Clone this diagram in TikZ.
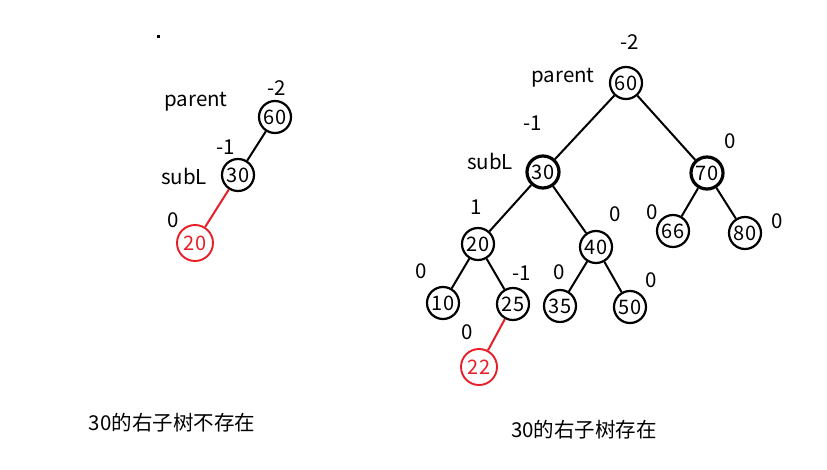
\documentclass[tikz,border=0pt]{standalone}
\usepackage{fontspec}
\setmainfont{Noto Sans CJK SC}
\definecolor{myred}{RGB}{232,30,40}
\begin{document}
\begin{tikzpicture}[x=1pt,y=-1pt,
  nd/.style={circle,draw,line width=2.2pt,minimum size=32pt,inner sep=0pt,font=\fontsize{20}{20}\selectfont},
  thick nd/.style={nd,line width=3.2pt},
  red nd/.style={nd,draw=myred,text=myred,minimum size=36pt,line width=1.9pt},
  lbl/.style={font=\fontsize{20.5}{20.5}\selectfont,inner sep=0pt},
  captext/.style={font=\fontsize{20.5}{20.5}\selectfont,inner sep=0pt},
  edge/.style={line width=2pt},
  redge/.style={line width=2pt,draw=myred}]
\useasboundingbox (0,0) rectangle (827,470);
\fill (156.5,35.5) rectangle (159.5,38.5);
% left tree
\node[nd] (a60) at (275,117) {60};
\node[nd] (a30) at (238,175) {30};
\node[red nd] (a20) at (195,243) {20};
\draw[edge] (a60) -- (a30);
\draw[redge] (a30) -- (a20);
\node[lbl] (la1) at (277,88) {-2};
\node[lbl] (la2) at (196,102) {parent};
\node[lbl] (la3) at (226,147) {-1};
\node[lbl] (la4) at (184,176) {subL};
\node[lbl] (la5) at (173,220) {0};
% right tree
\node[nd] (b60) at (626,83) {60};
\node[thick nd] (b30) at (543,172) {30};
\node[thick nd] (b70) at (707,173) {70};
\node[nd] (b20) at (478,244) {20};
\node[nd] (b40) at (596,247) {40};
\node[nd] (b66) at (673,231) {66};
\node[nd] (b80) at (745,233) {80};
\node[nd] (b10) at (443,303) {10};
\node[nd] (b25) at (513,304) {25};
\node[nd] (b35) at (560,306) {35};
\node[nd] (b50) at (630,307) {50};
\node[red nd] (b22) at (479,367) {22};
\draw[edge] (b60) -- (b30);
\draw[edge] (b60) -- (b70);
\draw[edge] (b30) -- (b20);
\draw[edge] (b30) -- (b40);
\draw[edge] (b70) -- (b66);
\draw[edge] (b70) -- (b80);
\draw[edge] (b20) -- (b10);
\draw[edge] (b20) -- (b25);
\draw[edge] (b40) -- (b35);
\draw[edge] (b40) -- (b50);
\draw[redge] (b25) -- (b22);
\node[lbl] (lb1) at (630,42) {-2};
\node[lbl] (lb2) at (563,78) {parent};
\node[lbl] (lb3) at (533,123) {-1};
\node[lbl] (lb4) at (730,141) {0};
\node[lbl] (lb5) at (490,161) {subL};
\node[lbl] (lb6) at (476,207) {1};
\node[lbl] (lb7) at (615,214) {0};
\node[lbl] (lb8) at (652,212) {0};
\node[lbl] (lb9) at (777,221) {0};
\node[lbl] (lb10) at (421,271) {0};
\node[lbl] (lb11) at (522,273) {-1};
\node[lbl] (lb12) at (559,272) {0};
\node[lbl] (lb13) at (651,280) {0};
\node[lbl] (lb14) at (467,332) {0};
% captions
\node[captext] (c1) at (172,423) {30的右子树不存在};
\node[captext] (c2) at (584,430) {30的右子树存在};
\end{tikzpicture}
\end{document}
